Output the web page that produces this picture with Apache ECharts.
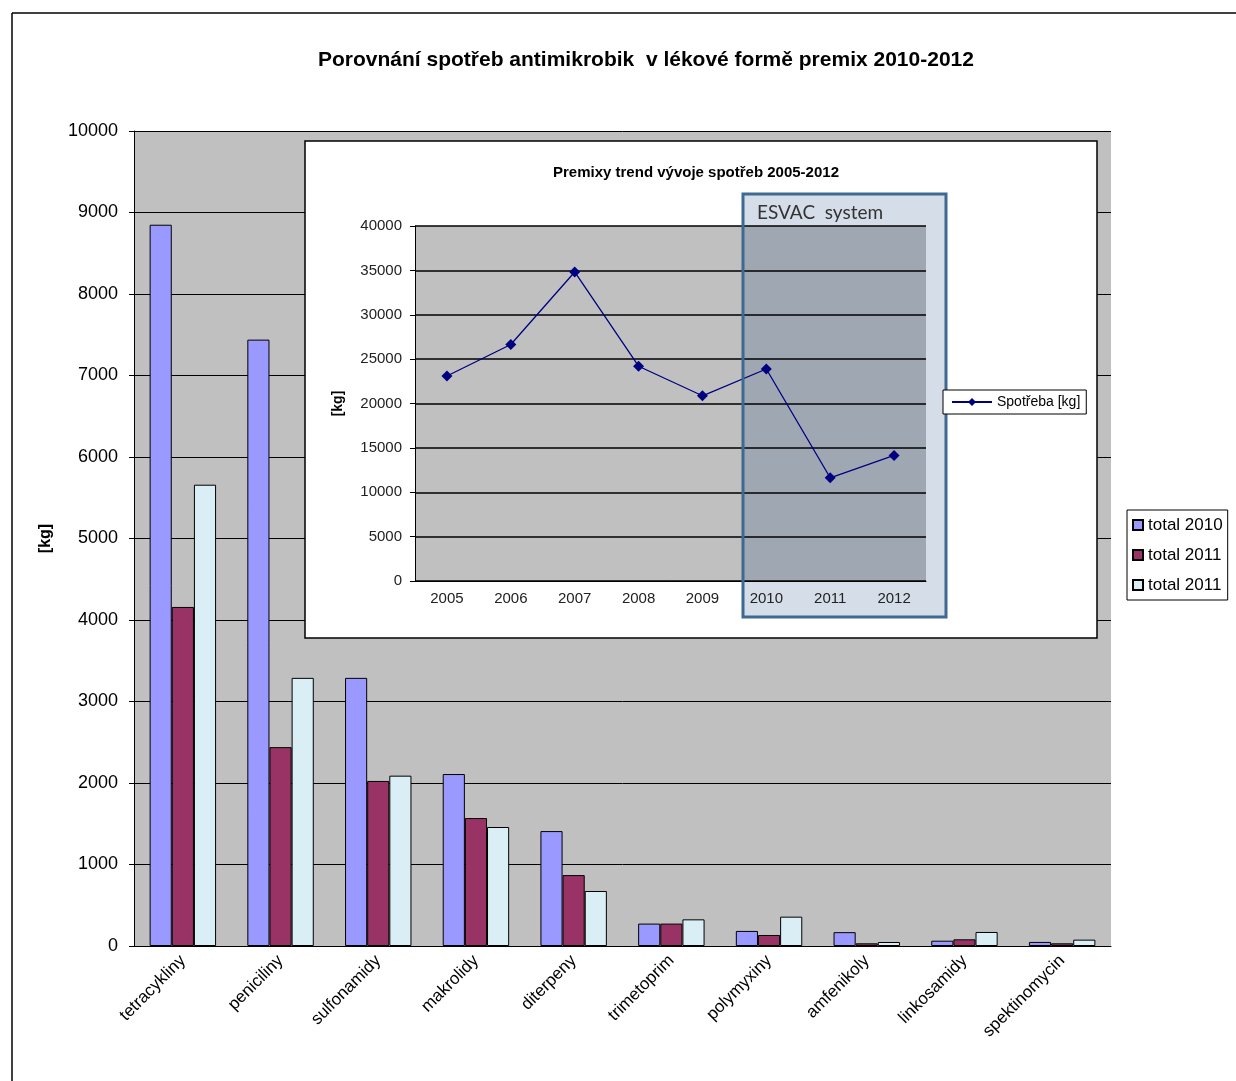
<!DOCTYPE html>
<html>
<head>
<meta charset="utf-8">
<script src="https://cdn.jsdelivr.net/npm/echarts@6/dist/echarts.min.js"></script>
<style>
html,body{margin:0;padding:0;background:#fff;}
#c{width:1236px;height:1081px;}
</style>
</head>
<body>
<div id="c"></div>
<script>
const categories = ['tetracykliny','peniciliny','sulfonamidy','makrolidy','diterpeny','trimetoprim','polymyxiny','amfenikoly','linkosamidy','spektinomycin'];
const total2010 = [8850, 7440, 3290, 2110, 1410, 275, 185, 170, 65, 50];
const total2011 = [4160, 2440, 2025, 1570, 870, 275, 135, 33, 82, 33];
const total2011b = [5660, 3290, 2090, 1460, 675, 327, 360, 49, 172, 78];
const years = ['2005','2006','2007','2008','2009','2010','2011','2012'];
const spotreba = [23100, 26650, 34820, 24200, 20870, 23890, 11630, 14150];

const F = 'Liberation Sans, Arial, sans-serif';
const FN = 'Liberation Sans Narrow, Liberation Sans, Arial, sans-serif';

const chart = echarts.init(document.getElementById('c'));
const barStyle = c => ({color: c, borderColor: '#000', borderWidth: 1});
const plain = v => String(v);

chart.setOption({
  backgroundColor: '#fff',
  animation: false,
  title: [
    {text: 'Porovnání spotřeb antimikrobik  v lékové formě premix 2010-2012', left: 313, top: 45,
     textStyle: {fontFamily: F, fontSize: 21, fontWeight: 'bold', color: '#000'}},
    {text: 'Premixy trend vývoje spotřeb 2005-2012', left: 548, top: 160, z: 30,
     textStyle: {fontFamily: FN, fontSize: 15, fontWeight: 'bold', color: '#000'}}
  ],
  legend: [
    {left: 1127, top: 510, orient: 'vertical', borderColor: '#000', borderWidth: 1, backgroundColor: '#fff',
     padding: [6, 5, 6, 5], itemGap: 12, itemWidth: 10, itemHeight: 10, icon: 'rect',
     data: ['total 2010', 'total 2011', 'total 2011 '],
     formatter: n => n.trim(),
     textStyle: {fontFamily: F, fontSize: 17, color: '#000', lineHeight: 18}},
    {left: 943, top: 390, orient: 'vertical', borderColor: '#000', borderWidth: 1, backgroundColor: '#fff', z: 30,
     padding: [5, 6, 5, 8], itemWidth: 40, itemHeight: 10,
     data: ['Spotřeba [kg]'],
     textStyle: {fontFamily: FN, fontSize: 14, color: '#000'}}
  ],
  grid: [
    {left: 134, top: 131, width: 977, height: 815, show: true, backgroundColor: '#C0C0C0', borderWidth: 0},
    {left: 415, top: 226, width: 511, height: 355, show: true, backgroundColor: '#C0C0C0', borderWidth: 0, z: 20}
  ],
  xAxis: [
    {type: 'category', gridIndex: 0, data: categories,
     axisLine: {lineStyle: {color: '#000', width: 1}},
     axisTick: {length: 6, lineStyle: {color: '#000'}, interval: 0},
     axisLabel: {rotate: 45, interval: 0, margin: 12, fontFamily: F, fontSize: 17, color: '#000'}},
    {type: 'category', gridIndex: 1, data: years, z: 22,
     axisLine: {lineStyle: {color: '#000', width: 1}},
     axisTick: {length: 5, lineStyle: {color: '#000'}, interval: 0},
     axisLabel: {interval: 0, margin: 10, fontFamily: F, fontSize: 15, color: '#222'}}
  ],
  yAxis: [
    {type: 'value', gridIndex: 0, min: 0, max: 10000, interval: 1000,
     name: '[kg]', nameLocation: 'middle', nameGap: 80,
     nameTextStyle: {fontFamily: F, fontSize: 16, fontWeight: 'bold', color: '#000'},
     axisLine: {show: true, lineStyle: {color: '#000'}},
     axisTick: {show: true, length: 5, lineStyle: {color: '#000'}},
     splitLine: {lineStyle: {color: '#000', width: 1}},
     axisLabel: {margin: 16, fontFamily: F, fontSize: 18, color: '#000', formatter: plain}},
    {type: 'value', gridIndex: 1, min: 0, max: 40000, interval: 5000, z: 22,
     name: '[kg]', nameLocation: 'middle', nameGap: 70,
     nameTextStyle: {fontFamily: F, fontSize: 14, fontWeight: 'bold', color: '#000'},
     axisLine: {show: true, lineStyle: {color: '#000'}},
     axisTick: {show: true, length: 5, lineStyle: {color: '#000'}},
     splitLine: {lineStyle: {color: '#000', width: 1.5}},
     axisLabel: {margin: 13, fontFamily: F, fontSize: 15, color: '#222', formatter: plain}}
  ],
  series: [
    {name: 'total 2010', type: 'bar', xAxisIndex: 0, yAxisIndex: 0, data: total2010,
     barGap: '0%', barCategoryGap: '32%', itemStyle: barStyle('#9999FF')},
    {name: 'total 2011', type: 'bar', xAxisIndex: 0, yAxisIndex: 0, data: total2011,
     barGap: '0%', barCategoryGap: '32%', itemStyle: barStyle('#993366')},
    {name: 'total 2011 ', type: 'bar', xAxisIndex: 0, yAxisIndex: 0, data: total2011b,
     barGap: '0%', barCategoryGap: '32%', itemStyle: barStyle('#DAEEF6')},
    {name: 'Spotřeba [kg]', type: 'line', xAxisIndex: 1, yAxisIndex: 1, data: spotreba, z: 24,
     symbol: 'diamond', symbolSize: 11, lineStyle: {color: '#000080', width: 1.3},
     itemStyle: {color: '#000080'}}
  ],
  graphic: [
    {type: 'line', shape: {x1: 12, y1: 13, x2: 1236, y2: 13}, style: {stroke: '#000', lineWidth: 1.5}, z: 1},
    {type: 'line', shape: {x1: 12, y1: 13, x2: 12, y2: 1081}, style: {stroke: '#000', lineWidth: 1.5}, z: 1},
    {type: 'rect', shape: {x: 305, y: 141, width: 792, height: 497}, style: {fill: '#fff', stroke: '#000', lineWidth: 1.5}, z: 10},
    {type: 'rect', shape: {x: 743, y: 194, width: 203, height: 423}, style: {fill: '#D5DEE8'}, z: 11},
    {type: 'rect', shape: {x: 743, y: 226, width: 183, height: 355}, style: {fill: '#9FA8B2'}, z: 21},
    {type: 'rect', shape: {x: 743, y: 194, width: 203, height: 423}, style: {fill: null, stroke: '#3E6990', lineWidth: 3}, z: 26},
    {type: 'text', x: 757, y: 203, style: {text: 'ESVAC  system', fontFamily: 'Lato, Open Sans, sans-serif', fontSize: 19, fill: '#333'}, z: 27}
  ]
});
</script>
</body>
</html>
